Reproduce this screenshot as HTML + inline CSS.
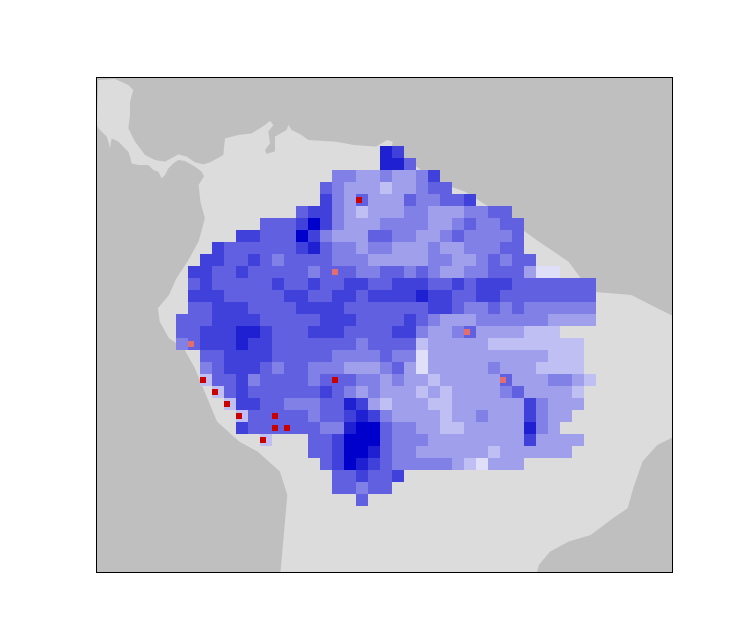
<!DOCTYPE html>
<html><head><meta charset="utf-8"><style>
html,body{margin:0;padding:0;background:#fff;}
svg{display:block;font-family:"Liberation Sans",sans-serif;}
</style></head><body>
<svg id="map" width="750" height="644" viewBox="0 0 750 644">
<defs><clipPath id="frameclip"><rect x="96.5" y="77.5" width="576" height="495"/></clipPath></defs>
<g clip-path="url(#frameclip)">
<rect x="96.5" y="77.5" width="576" height="495" fill="#bfbfbf"/>
<g transform="translate(95,75) scale(0.3699,0.3333)">
<path fill="#dcdcdc" d="M297,430 L285,380 L280,330 L300,295 L350,265 L420,250 L500,225 L560,205 L650,200 L700,210 L760,215 L790,195 L805,200 L800,230 L850,260 L900,300 L950,330 L1000,350 L1100,420 L1200,500 L1280,560 L1340,650 L1450,660 L1520,700 L1575,730 L1575,1080 L1520,1110 L1480,1160 L1455,1240 L1440,1300 L1400,1330 L1340,1380 L1280,1400 L1230,1430 L1200,1470 L1190,1510 L500,1510 L520,1260 L500,1190 L440,1130 L390,1100 L330,1040 L300,960 L270,880 L240,820 L200,790 L175,740 L170,700 L200,660 L220,610 L250,560 L280,500 L297,430 Z"/>
</g>
<g transform="translate(95,75) scale(0.3333)">
<path fill="#dcdcdc" d="M10,15 L60,12 L100,30 L115,45 L105,80 L105,120 L100,160 L120,200 L150,240 L180,255 L210,260 L250,238 L275,245 L300,262 L325,268 L345,262 L385,240 L390,190 L430,180 L470,175 L510,150 L525,138 L535,150 L520,170 L525,205 L510,225 L520,250 L540,240 L540,185 L575,165 L580,150 L590,165 L620,180 L640,195 L715,200 L760,210 L760,460 L330,460 L330,310 L320,290 L300,275 L270,258 L250,255 L235,265 L220,280 L210,300 L200,310 L190,290 L175,285 L160,270 L130,270 L110,265 L105,245 L100,230 L70,200 L50,190 L45,220 L40,200 L35,185 L10,160 L5,150 Z"/>
</g>
<g id="cells"></g>
</g>
<rect x="96.5" y="77.5" width="576" height="495" fill="none" stroke="#000" stroke-width="1"/>
</svg>
<script>
// grid rows: start column and per-cell level string (0 white .. 8 dark blue, r = red, p = pink, . = no data)
const rowStarts = [17,17,13,12,12,10,7,5,3,2,1,1,1,1,0,0,0,2,2,2,3,4,4,5,6,11,12,12,13,15];
const rowValues = [
"76",
"775",
"443343346",
"54333233455",
"643r333544556",
"566432333443334455",
"5556864333444433454455",
"665558643335544334544445",
"65555556754434433343344455",
"6655654555544433333443345455",
"665565555545p544554543344555311",
"5655555655655665566655656665555555",
"6665555566556656666766556655555555",
"5566655556666555555566544545444444",
"55566665555566655556543334444443333",
"556667765556665555664334p3333222",
"4p66676655555554555523333322222222",
"55666655555444454413333333333222",
"45666545544433345313333343332222",
"r5564555545r5443433233333p3334432",
"r565555556543433323233334533332",
"r66554445576323332233333364333",
".r55r554556764333323343336433",
"655rr5544788544332233333743",
".r...55688854443333333363333",
"5568875443333332333333",
"56876544444321333",
".556556",
"55455",
"5"];
const x0 = 176, y0 = 146, cell = 12;
function colX(c){ return x0 + c*cell; }
function rowY(r){ return y0 + r*cell; }
function levelColor(ch){
  const t = Number(ch)/8;
  const rg = Math.round(255*(1-t));
  const b = Math.round(255 - 50*t);
  return 'rgb('+rg+','+rg+','+b+')';
}
const g = document.getElementById('cells');
const NS = 'http://www.w3.org/2000/svg';
rowValues.forEach(function(str, r){
  for (let i = 0; i < str.length; i++){
    const ch = str[i];
    if (ch === '.') continue;
    const x = colX(rowStarts[r] + i), y = rowY(r);
    const special = (ch === 'r' || ch === 'p');
    const rect = document.createElementNS(NS, 'rect');
    rect.setAttribute('x', x);
    rect.setAttribute('y', y);
    rect.setAttribute('width', cell);
    rect.setAttribute('height', cell);
    rect.setAttribute('fill', levelColor(special ? (r > 17 && (rowStarts[r]+i) < 8 ? '2' : '5') : ch));
    
    
    g.appendChild(rect);
    if (special){
      const dot = document.createElementNS(NS, 'rect');
      dot.setAttribute('x', x);
      dot.setAttribute('y', y + 3);
      dot.setAttribute('width', 6);
      dot.setAttribute('height', 6);
      dot.setAttribute('fill', ch === 'r' ? 'rgb(205,0,0)' : 'rgb(228,110,110)');
      
      
      g.appendChild(dot);
    }
  }
});
</script>
</body></html>
